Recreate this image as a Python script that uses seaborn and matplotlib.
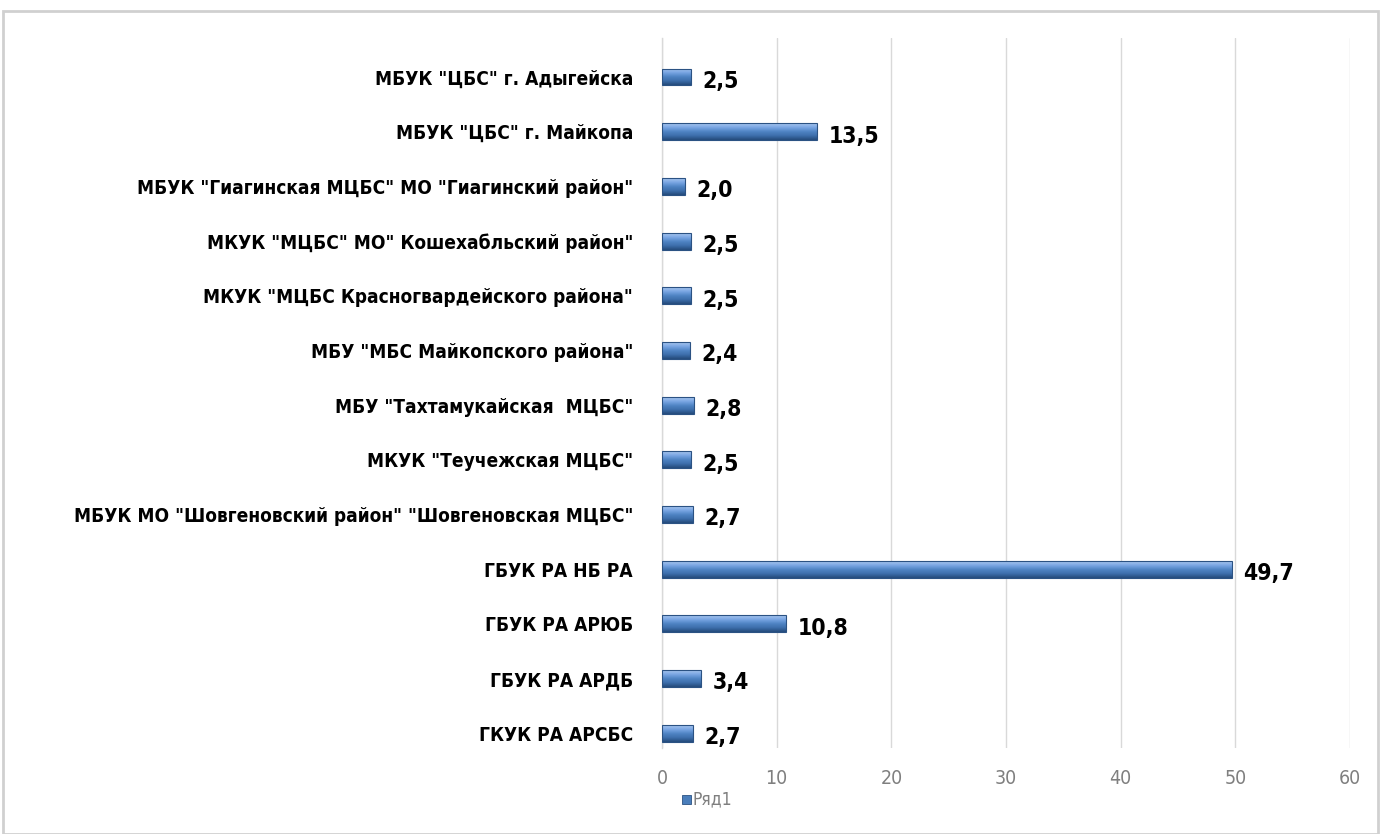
import numpy as np
import pandas as pd
import matplotlib
matplotlib.use("Agg")
import matplotlib.pyplot as plt
import seaborn as sns
from matplotlib import font_manager
from matplotlib.colors import LinearSegmentedColormap
from matplotlib.patches import Rectangle

# data, top to bottom as in the chart
categories = [
    'МБУК "ЦБС" г. Адыгейска',
    'МБУК "ЦБС" г. Майкопа',
    'МБУК "Гиагинская МЦБС" МО "Гиагинский район"',
    'МКУК "МЦБС" МО" Кошехабльский район"',
    'МКУК "МЦБС Красногвардейского района"',
    'МБУ "МБС Майкопского района"',
    'МБУ "Тахтамукайская  МЦБС"',
    'МКУК "Теучежская МЦБС"',
    'МБУК МО "Шовгеновский район" "Шовгеновская МЦБС"',
    'ГБУК РА НБ РА',
    'ГБУК РА АРЮБ',
    'ГБУК РА АРДБ',
    'ГКУК РА АРСБС',
]
values = [2.5, 13.5, 2.0, 2.5, 2.5, 2.4, 2.8, 2.5, 2.7, 49.7, 10.8, 3.4, 2.7]
series_name = "Ряд1"
x_ticks = [0, 10, 20, 30, 40, 50, 60]

df = pd.DataFrame({"cat": categories, "val": values})

sns.set_style("white")

# pick a narrow font if one is there
fonts = font_manager.fontManager.ttflist
names = {f.name for f in fonts}
if "Liberation Sans Narrow" in names:
    fam, stretch, lab_size, val_size = "Liberation Sans Narrow", "normal", 16, 18
elif any(f.name == "DejaVu Sans" and f.stretch == "condensed" for f in fonts):
    fam, stretch, lab_size, val_size = "DejaVu Sans", "condensed", 13.7, 16.5
else:
    fam, stretch, lab_size, val_size = "DejaVu Sans", "normal", 12.5, 16
plt.rcParams['font.family'] = [fam, 'DejaVu Sans']
plt.rcParams['font.stretch'] = stretch

fig = plt.figure(figsize=(13.81, 8.34), dpi=100)
ax = fig.add_axes([0.4794, 0.1031, 0.4982, 0.8513])

sns.barplot(data=df, y="cat", x="val", orient="h", color="#4a7ebb",
            width=0.31, ax=ax, zorder=3, linewidth=0)

# gradient fill to mimic the bevelled Excel bars
cmap = LinearSegmentedColormap.from_list(
    "bevel", ["#a9c6ee", "#7aa6e4", "#4f84c4", "#3d6eab", "#244a7a"])
grad = np.linspace(0, 1, 64).reshape(-1, 1)
for p in ax.patches:
    x0, y0 = p.get_x(), p.get_y()
    w, h = p.get_width(), p.get_height()
    im = ax.imshow(grad, cmap=cmap, aspect="auto", zorder=4,
                   extent=[x0, x0 + w, y0 + h, y0], interpolation="bicubic")
    im.set_clip_path(p)
    ax.add_patch(Rectangle((x0, y0), w, h, fill=False, edgecolor="#2b5283",
                           linewidth=0.8, zorder=5))
    # value label
    ax.text(x0 + w + 1.0, y0 + h / 2 + 0.08, f"{w:.1f}".replace(".", ","),
            va="center", ha="left", fontsize=val_size, fontweight="bold",
            fontstretch=stretch, color="black", zorder=6)

ax.set_xlim(0, 60)
ax.set_ylim(12.27, -0.713)
ax.set_xticks(x_ticks)
ax.set_xticklabels([str(t) for t in x_ticks], fontsize=14, color="#7f7f7f",
                   fontstretch=stretch)
ax.tick_params(axis="x", length=0, pad=15)
ax.tick_params(axis="y", length=0, pad=21)
for lab in ax.get_yticklabels():
    lab.set_fontsize(lab_size)
    lab.set_fontweight("bold")
    lab.set_fontstretch(stretch)
    lab.set_color("black")

ax.xaxis.grid(True, color="#d9d9d9", linewidth=1, zorder=0)
ax.yaxis.grid(False)
ax.set_xlabel("")
ax.set_ylabel("")
for s in ["top", "right", "bottom"]:
    ax.spines[s].set_visible(False)
ax.spines["left"].set_color("#d9d9d9")
ax.spines["left"].set_linewidth(1)

# legend
fig.patches.append(Rectangle((0.4935, 0.0355), 0.0065, 0.0115, transform=fig.transFigure,
                             facecolor="#4a7ebb", edgecolor="#2b5283", linewidth=0.6))
fig.text(0.5015, 0.041, series_name, fontsize=12.5, color="#7f7f7f", va="center", ha="left",
         fontstretch=stretch)

# chart frame
fig.patches.append(Rectangle((0.002, 0.0), 0.996, 0.987, transform=fig.transFigure,
                             fill=False, edgecolor="#d0d0d0", linewidth=2))

fig.savefig("out.png", dpi=100)
